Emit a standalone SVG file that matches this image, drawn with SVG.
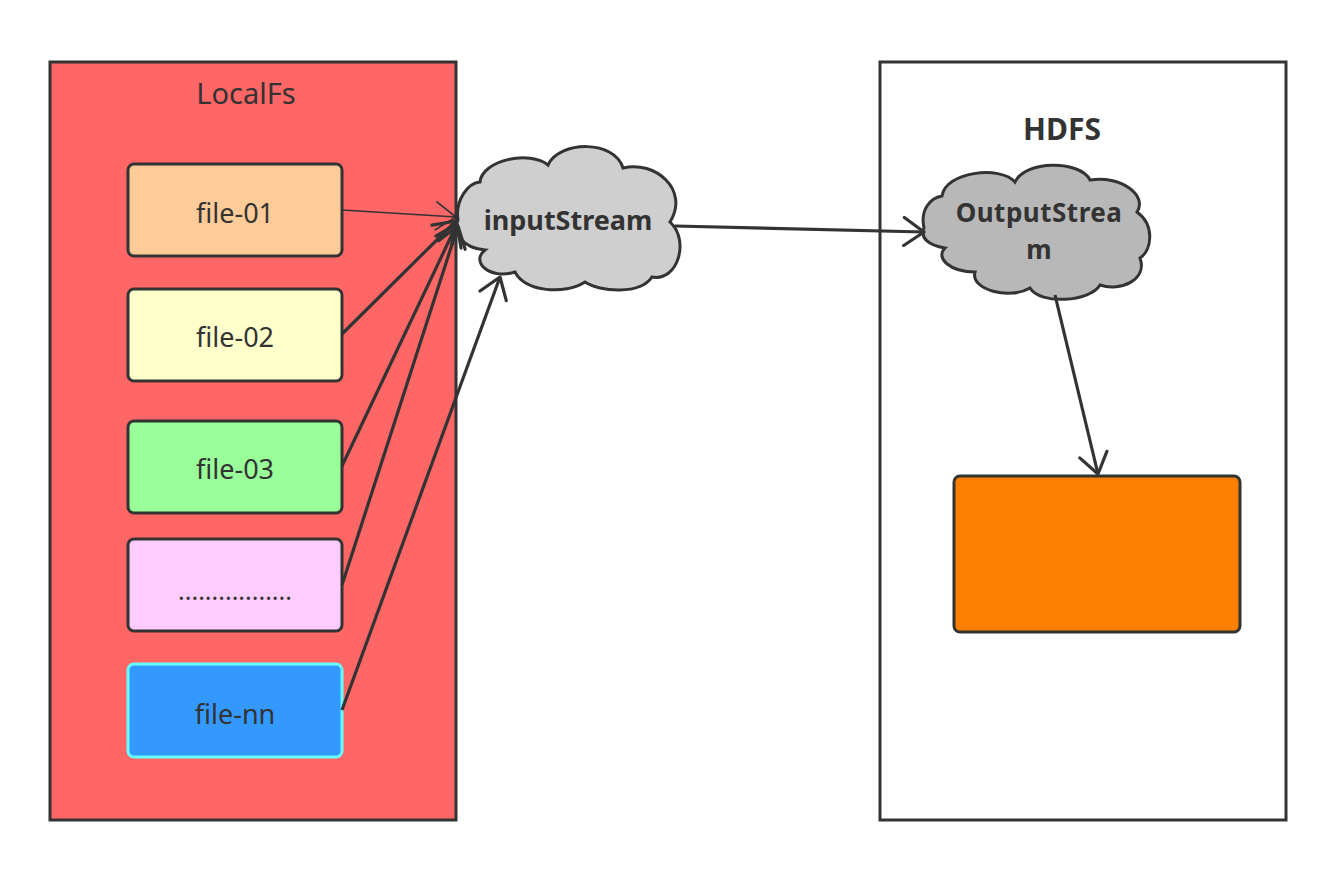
<svg xmlns="http://www.w3.org/2000/svg" width="1336" height="870" viewBox="0 0 1336 870">
<defs>
<style>
.box{stroke:#333;stroke-width:3}
.file{stroke:#333;stroke-width:3}
.lbl{font-family:"Noto Sans","Open Sans",sans-serif;font-size:27px;fill:#333;text-anchor:middle;dominant-baseline:central}
.bold{font-weight:bold}
.edge{stroke:#333;stroke-width:3.2;fill:none}
</style>
<marker id="arr" markerUnits="userSpaceOnUse" viewBox="0 0 24 32" refX="22" refY="16" markerWidth="24" markerHeight="32" orient="auto">
<path d="M2,2 L22,16 L2,30" fill="none" stroke="#333" stroke-width="3.2" stroke-linecap="round" stroke-linejoin="round"/>
</marker>
<marker id="arrThin" markerUnits="userSpaceOnUse" viewBox="0 0 24 32" refX="22" refY="16" markerWidth="24" markerHeight="32" orient="auto">
<path d="M2,2 L22,16 L2,30" fill="none" stroke="#333" stroke-width="1.6" stroke-linecap="round"/>
</marker>
</defs>
<rect width="1336" height="870" fill="#ffffff"/>
<g id="localfs">
<rect class="box" x="50" y="62" width="406" height="758" fill="#FF6666"/>
<text class="lbl" x="246" y="92" style="font-size:29px">LocalFs</text>
</g>
<g id="hdfs">
<rect class="box" x="880" y="62" width="406" height="758" fill="#ffffff"/>
<text class="lbl bold" x="1062" y="128" style="font-size:30px">HDFS</text>
</g>
<g id="file-01">
<rect class="file" x="128" y="164" width="214" height="92" rx="6" fill="#FFCC99"/>
<text class="lbl" x="235" y="212">file-01</text>
</g>
<g id="file-02">
<rect class="file" x="128" y="289" width="214" height="92" rx="6" fill="#FFFFCC"/>
<text class="lbl" x="235" y="336">file-02</text>
</g>
<g id="file-03">
<rect class="file" x="128" y="421" width="214" height="92" rx="6" fill="#99FF99"/>
<text class="lbl" x="235" y="468">file-03</text>
</g>
<g id="file-dots">
<rect class="file" x="128" y="539" width="214" height="92" rx="6" fill="#FFCCFF"/>
<text class="lbl" x="235" y="590" style="font-size:25px">.................</text>
</g>
<g id="file-nn">
<rect x="128" y="664" width="214" height="93" rx="6" fill="#3399FF" stroke="#66FFFF" stroke-width="3"/>
<text class="lbl" x="235" y="713">file-nn</text>
</g>
<g id="inputStream">
<path d="M458,220 C455,200 468,183 480,182 C482,160 530,150 548,165 C560,140 615,140 623,168 C655,160 690,190 670,222 C690,240 678,282 652,277 C640,295 600,292 585,282 C565,295 525,292 515,272 C490,280 470,262 485,250 C462,248 452,232 458,220 Z" fill="#CFCFCF" stroke="#333" stroke-width="3"/>
<text class="lbl bold" x="568" y="219">inputStream</text>
</g>
<g id="outputStream">
<path d="M924,228 C920,210 930,198 942,196 C945,172 1000,165 1015,182 C1025,160 1080,160 1090,180 C1120,175 1148,195 1137,212 C1155,225 1152,250 1140,258 C1148,280 1120,292 1100,285 C1090,302 1040,305 1030,288 C1010,300 970,290 975,272 C950,272 935,258 945,248 C928,245 920,238 924,228 Z" fill="#B8B8B8" stroke="#333" stroke-width="3"/>
<text class="lbl bold" x="1039" y="212" style="font-size:26px;letter-spacing:0.5px">OutputStrea</text>
<text class="lbl bold" x="1039" y="249" style="font-size:26px">m</text>
</g>
<g id="storage">
<rect class="file" x="954" y="476" width="286" height="156" rx="6" fill="#FF8000"/>
</g>
<g id="connectors">
<line x1="342" y1="210" x2="456" y2="217" stroke="#333" stroke-width="1.6" marker-end="url(#arrThin)"/>
<line class="edge" x1="342" y1="334" x2="456" y2="221" marker-end="url(#arr)"/>
<line class="edge" x1="342" y1="466" x2="457" y2="224" marker-end="url(#arr)"/>
<line class="edge" x1="342" y1="585" x2="458" y2="226" marker-end="url(#arr)"/>
<line class="edge" x1="342" y1="710" x2="500" y2="277" marker-end="url(#arr)"/>
<line class="edge" x1="675" y1="226" x2="924" y2="232" marker-end="url(#arr)"/>
<line class="edge" x1="1055" y1="295" x2="1098" y2="474" marker-end="url(#arr)"/>
</g>
</svg>
